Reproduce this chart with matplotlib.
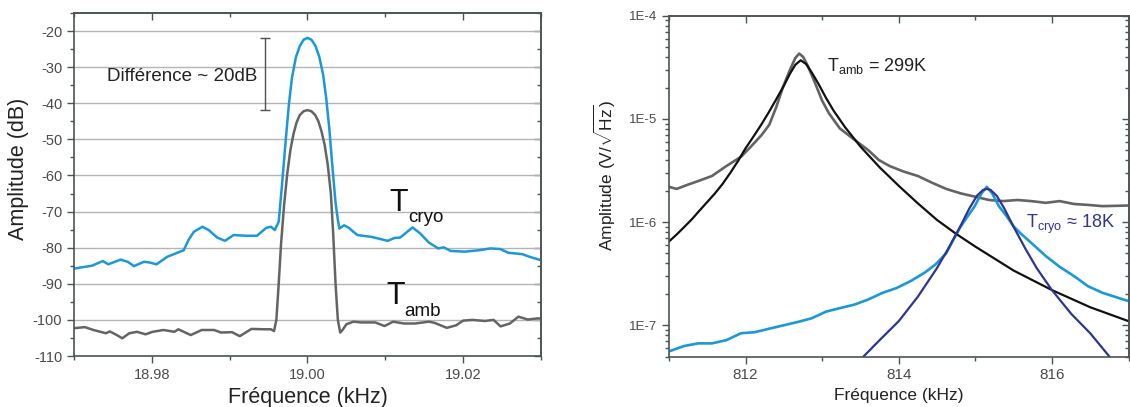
import matplotlib
matplotlib.use("Agg")
import matplotlib.pyplot as plt
from matplotlib.ticker import MultipleLocator, FixedLocator, LogLocator, FuncFormatter, NullFormatter

plt.rcParams['font.family'] = ['Liberation Sans', 'DejaVu Sans']
plt.rcParams['axes.unicode_minus'] = False
plt.rcParams['mathtext.fontset'] = 'custom'
plt.rcParams['mathtext.rm'] = 'Liberation Sans'
plt.rcParams['mathtext.it'] = 'Liberation Sans'

# ---- left panel data (kHz, dB)
cryo_f = [18.9700, 18.9714, 18.9723, 18.9737, 18.9744, 18.9760, 18.9769, 18.9777, 18.9790, 18.9797,
          18.9806, 18.9820, 18.9841, 18.9847, 18.9854, 18.9865, 18.9873, 18.9884, 18.9894, 18.9905,
          18.9921, 18.9935, 18.9947, 18.9953, 18.9958, 18.9963, 18.9967, 18.9972, 18.9976, 18.9980,
          18.9985, 18.9990, 18.9995, 19.0000, 19.0005, 19.0010, 19.0015, 19.0020, 19.0024, 19.0028,
          19.0032, 19.0036, 19.0039, 19.0041, 19.0047,
          19.0053, 19.0064, 19.0082, 19.0103, 19.0112, 19.0119, 19.0135, 19.0145, 19.0156, 19.0168,
          19.0175, 19.0184, 19.0202, 19.0221, 19.0235, 19.0248, 19.0258, 19.0276, 19.0285, 19.0302]
cryo_db = [-85.8, -85.3, -85.0, -83.7, -84.6, -83.3, -83.9, -85.1, -83.9, -84.1,
           -84.6, -82.5, -80.7, -77.9, -75.6, -74.2, -75.1, -77.2, -78.1, -76.5,
           -76.7, -76.7, -74.5, -74.2, -75.1, -72.8, -63.2, -50.3, -40.5, -33.0,
           -27.3, -24.2, -22.4, -21.9, -22.4, -24.0, -27.0, -32.0, -38.5, -47.0,
           -57.5, -67.5, -72.3, -74.7, -73.8,
           -74.5, -76.5, -77.0, -78.1, -77.3, -77.2, -74.4, -76.1, -78.6, -80.2,
           -79.9, -80.9, -81.1, -80.7, -80.2, -80.4, -81.4, -81.8, -82.5, -83.6]

amb_f = [18.9700, 18.9714, 18.9725, 18.9741, 18.9746, 18.9755, 18.9762, 18.9771, 18.9781, 18.9792,
         18.9801, 18.9815, 18.9829, 18.9834, 18.9841, 18.9850, 18.9864, 18.9880, 18.9889, 18.9903,
         18.9913, 18.9928, 18.9944, 18.9953, 18.9957, 18.9960, 18.9963, 18.9966, 18.9970, 18.9974,
         18.9978, 18.9982, 18.9986, 18.9990, 18.9995, 19.0000, 19.0005, 19.0010, 19.0014, 19.0018,
         19.0022, 19.0026, 19.0030, 19.0033, 19.0036, 19.0039,
         19.0042, 19.0045, 19.0050, 19.0059, 19.0069, 19.0087, 19.0099, 19.0110, 19.0124, 19.0138,
         19.0156, 19.0163, 19.0179, 19.0191, 19.0200, 19.0212, 19.0228, 19.0239, 19.0248, 19.0260,
         19.0271, 19.0283, 19.0295, 19.0302]
amb_db = [-102.3, -102.0, -102.8, -103.7, -103.2, -104.2, -105.1, -103.7, -103.3, -104.0,
          -103.3, -102.8, -103.3, -102.6, -103.3, -104.2, -102.8, -102.8, -103.5, -103.4,
          -104.5, -102.5, -102.6, -102.6, -103.1, -100.0, -90.0, -79.0, -68.0, -59.5,
          -53.0, -48.5, -45.3, -43.3, -42.2, -41.9, -42.2, -43.3, -45.0, -47.8,
          -51.5, -57.0, -65.0, -76.1, -89.9, -100.0,
          -103.5, -102.8, -101.2, -100.5, -100.7, -100.7, -101.7, -100.5, -101.0, -101.0,
          -100.5, -100.8, -102.2, -101.5, -100.2, -100.0, -100.3, -100.0, -101.8, -101.0,
          -99.1, -99.9, -99.6, -99.6]

# ---- right panel data (kHz, V/sqrt(Hz))
grey_f = [811.00, 811.10, 811.24, 811.38, 811.56, 811.75, 811.94, 812.07, 812.21, 812.31,
          812.40, 812.49, 812.58, 812.65, 812.70, 812.75, 812.81, 812.91, 813.00, 813.09,
          813.23, 813.42, 813.60, 813.74, 813.88, 814.06, 814.25, 814.44, 814.62, 814.81,
          814.99, 815.18, 815.36, 815.55, 815.73, 815.92, 816.10, 816.29, 816.47, 816.66, 817.00]
grey_v = [2.2e-6, 2.1e-6, 2.3e-6, 2.5e-6, 2.8e-6, 3.5e-6, 4.3e-6, 5.4e-6, 7.0e-6, 8.8e-6,
          1.3e-5, 2.05e-5, 3.0e-5, 3.9e-5, 4.3e-5, 4.0e-5, 3.3e-5, 2.2e-5, 1.5e-5, 1.13e-5,
          8.1e-6, 6.3e-6, 5.0e-6, 4.0e-6, 3.5e-6, 3.1e-6, 2.8e-6, 2.4e-6, 2.1e-6, 1.9e-6,
          1.77e-6, 1.64e-6, 1.6e-6, 1.64e-6, 1.6e-6, 1.54e-6, 1.6e-6, 1.5e-6, 1.47e-6, 1.43e-6, 1.45e-6]

blue_f = [811.00, 811.19, 811.38, 811.56, 811.75, 811.94, 812.12, 812.31, 812.49, 812.68,
          812.86, 813.05, 813.23, 813.42, 813.60, 813.79, 813.97, 814.16, 814.34, 814.48,
          814.62, 814.71, 814.81, 814.90, 814.99, 815.08, 815.15, 815.22, 815.31, 815.41,
          815.50, 815.59, 815.73, 815.92, 816.10, 816.29, 816.47, 816.66, 817.00]
blue_v = [5.6e-8, 6.3e-8, 6.7e-8, 6.7e-8, 7.2e-8, 8.4e-8, 8.6e-8, 9.3e-8, 1.0e-7, 1.08e-7,
          1.17e-7, 1.36e-7, 1.47e-7, 1.59e-7, 1.78e-7, 2.07e-7, 2.3e-7, 2.7e-7, 3.25e-7, 3.9e-7,
          5.0e-7, 6.7e-7, 9.1e-7, 1.14e-6, 1.42e-6, 1.9e-6, 2.2e-6, 1.9e-6, 1.42e-6, 1.14e-6,
          9.1e-7, 7.8e-7, 6.3e-7, 4.7e-7, 3.7e-7, 3.0e-7, 2.4e-7, 2.07e-7, 1.72e-7]

fit_amb_f = [811.00, 811.10, 811.20, 811.30, 811.40, 811.50, 811.60, 811.70, 811.80, 811.90,
             812.00, 812.10, 812.20, 812.30, 812.40, 812.50, 812.58, 812.65, 812.72, 812.79,
             812.86, 812.95, 813.05, 813.15, 813.30, 813.50, 813.75, 814.00, 814.25, 814.50,
             814.75, 815.00, 815.50, 816.00, 816.50, 817.00]
fit_amb_v = [6.5e-7, 7.6e-7, 9.0e-7, 1.07e-6, 1.3e-6, 1.57e-6, 1.9e-6, 2.35e-6, 3.0e-6, 3.9e-6,
             5.2e-6, 6.7e-6, 8.7e-6, 1.15e-5, 1.55e-5, 2.1e-5, 2.75e-5, 3.35e-5, 3.7e-5, 3.4e-5,
             2.85e-5, 2.2e-5, 1.6e-5, 1.2e-5, 8.3e-6, 5.4e-6, 3.4e-6, 2.25e-6, 1.52e-6, 1.05e-6,
             7.7e-7, 5.8e-7, 3.4e-7, 2.2e-7, 1.5e-7, 1.1e-7]

fit_cryo_f = [813.54, 813.75, 814.00, 814.25, 814.50, 814.65, 814.80, 814.92, 815.02, 815.10,
              815.15, 815.20, 815.28, 815.38, 815.50, 815.65, 815.80, 816.00, 816.25, 816.50, 816.75]
fit_cryo_v = [5.0e-8, 7.2e-8, 1.1e-7, 1.9e-7, 3.6e-7, 5.6e-7, 9.0e-7, 1.35e-6, 1.8e-6, 2.05e-6,
              2.1e-6, 2.05e-6, 1.8e-6, 1.35e-6, 9.0e-7, 5.6e-7, 3.6e-7, 2.2e-7, 1.3e-7, 8.4e-8, 5.0e-8]

decade_labels = {1e-4: '1E-4', 1e-5: '1E-5', 1e-6: '1E-6', 1e-7: '1E-7'}

BLUE = '#1a98d8'
GREY = '#646464'
NAVY = '#2e3592'
SPINE = '#4b5454'
TICKTXT = '#4a4a4a'


def mirror_ticks(ax, xmaj, xmin, ymaj, ymin):
    # top and right ticks point inward, bottom and left point outward
    top = ax.secondary_xaxis('top')
    top.xaxis.set_major_locator(xmaj)
    top.xaxis.set_minor_locator(xmin)
    top.tick_params(which='both', direction='in', labeltop=False, colors=SPINE, width=1.0)
    top.tick_params(which='major', length=5)
    top.tick_params(which='minor', length=3)
    top.spines['top'].set_color(SPINE)
    top.spines['top'].set_linewidth(1.2)
    right = ax.secondary_yaxis('right')
    right.yaxis.set_major_locator(ymaj)
    right.yaxis.set_minor_locator(ymin)
    right.yaxis.set_minor_formatter(NullFormatter())
    right.tick_params(which='both', direction='in', labelright=False, colors=SPINE, width=1.0)
    right.tick_params(which='major', length=5)
    right.tick_params(which='minor', length=3)
    right.spines['right'].set_color(SPINE)
    right.spines['right'].set_linewidth(1.2)


fig = plt.figure(figsize=(11.30, 4.07), dpi=100)
ax1 = fig.add_axes([74 / 1130, 1 - 356 / 407, (541 - 74) / 1130, (356 - 13) / 407])
ax2 = fig.add_axes([669 / 1130, 1 - 356.5 / 407, (1128.5 - 669) / 1130, (356.5 - 15.7) / 407])

for ax in (ax1, ax2):
    for s in ax.spines.values():
        s.set_color(SPINE)
        s.set_linewidth(1.2)
    ax.tick_params(which='both', colors=SPINE, labelcolor=TICKTXT, width=1.0, direction='out')

# ---- left panel ------------------------------------------------------------
ax1.set_xlim(18.97, 19.03)
ax1.set_ylim(-110, -15)
ax1.yaxis.set_major_locator(MultipleLocator(10))
ax1.yaxis.set_minor_locator(MultipleLocator(5))
ax1.xaxis.set_major_locator(FixedLocator([18.98, 19.00, 19.02]))
ax1.xaxis.set_minor_locator(FixedLocator([18.97, 18.99, 19.01, 19.03]))
ax1.xaxis.set_major_formatter(FuncFormatter(lambda v, p: f'{v:.2f}'))
ax1.yaxis.set_major_formatter(FuncFormatter(lambda v, p: f'{v:.0f}'))
ax1.tick_params(which='major', length=5, labelsize=10.5)
ax1.tick_params(which='minor', length=3)
ax1.yaxis.grid(True, which='major', color='#b4b4b4', linewidth=1.0)
ax1.set_axisbelow(True)
mirror_ticks(ax1, FixedLocator([18.98, 19.00, 19.02]), FixedLocator([18.97, 18.99, 19.01, 19.03]),
             MultipleLocator(10), MultipleLocator(5))

ax1.plot(amb_f, amb_db, color=GREY, lw=1.8)
ax1.plot(cryo_f, cryo_db, color=BLUE, lw=1.8)

ax1.errorbar([18.9945], [-32], yerr=[[10], [10]], fmt='none', ecolor='#505050',
             elinewidth=1.0, capsize=3.5, capthick=1.0)
ax1.text(18.9743, -32.6, 'Différence ~ 20dB', fontsize=13.5, color='#222222', va='center', ha='left')

ax1.text(19.0105, -69.8, 'T', fontsize=22, color='#111111')
ax1.text(19.0129, -72.9, 'cryo', fontsize=13.5, color='#111111')
ax1.text(19.0101, -95.5, 'T', fontsize=22, color='#111111')
ax1.text(19.0124, -98.8, 'amb', fontsize=13.5, color='#111111')

ax1.set_xlabel('Fréquence (kHz)', fontsize=15.5, color='#222222', labelpad=4)
ax1.set_ylabel('Amplitude (dB)', fontsize=15.5, color='#222222')
ax1.yaxis.set_label_coords(-0.097, 0.545)

# ---- right panel -----------------------------------------------------------
ax2.set_yscale('log')
ax2.set_xlim(811, 817)
ax2.set_ylim(5e-8, 1e-4)
ax2.xaxis.set_major_locator(FixedLocator([812, 814, 816]))
ax2.xaxis.set_minor_locator(FixedLocator([811, 813, 815, 817]))
ax2.yaxis.set_major_locator(LogLocator(base=10, numticks=10))
ax2.yaxis.set_minor_locator(LogLocator(base=10, subs=range(2, 10), numticks=10))
ax2.yaxis.set_minor_formatter(NullFormatter())
ax2.yaxis.set_major_formatter(FuncFormatter(lambda v, p: decade_labels.get(round(v, 12), '')))
ax2.tick_params(which='major', length=5)
ax2.tick_params(axis='x', labelsize=11)
ax2.tick_params(axis='y', labelsize=9.5)
ax2.tick_params(which='minor', length=3)
mirror_ticks(ax2, FixedLocator([812, 814, 816]), FixedLocator([811, 813, 815, 817]),
             LogLocator(base=10, numticks=10), LogLocator(base=10, subs=range(2, 10), numticks=10))

ax2.plot(grey_f, grey_v, color=GREY, lw=1.9)
ax2.plot(blue_f, blue_v, color=BLUE, lw=1.9)
ax2.plot(fit_amb_f, fit_amb_v, color='#111111', lw=1.6)
ax2.plot(fit_cryo_f, fit_cryo_v, color=NAVY, lw=1.6)

ax2.text(813.06, 2.9e-5, r'T$_{\mathrm{amb}}$ = 299K', fontsize=13, color='#222222')
ax2.text(815.66, 8.8e-7, r'T$_{\mathrm{cryo}}$ ≈ 18K', fontsize=13, color=NAVY)

ax2.set_xlabel('Fréquence (kHz)', fontsize=12.5, color='#222222', labelpad=4)
ax2.set_ylabel(r'Amplitude (V/$\sqrt{\mathrm{Hz}}$)', fontsize=12.5, color='#222222')
ax2.yaxis.set_label_coords(-0.11, 0.53)

plt.savefig('out.png', dpi=100)
